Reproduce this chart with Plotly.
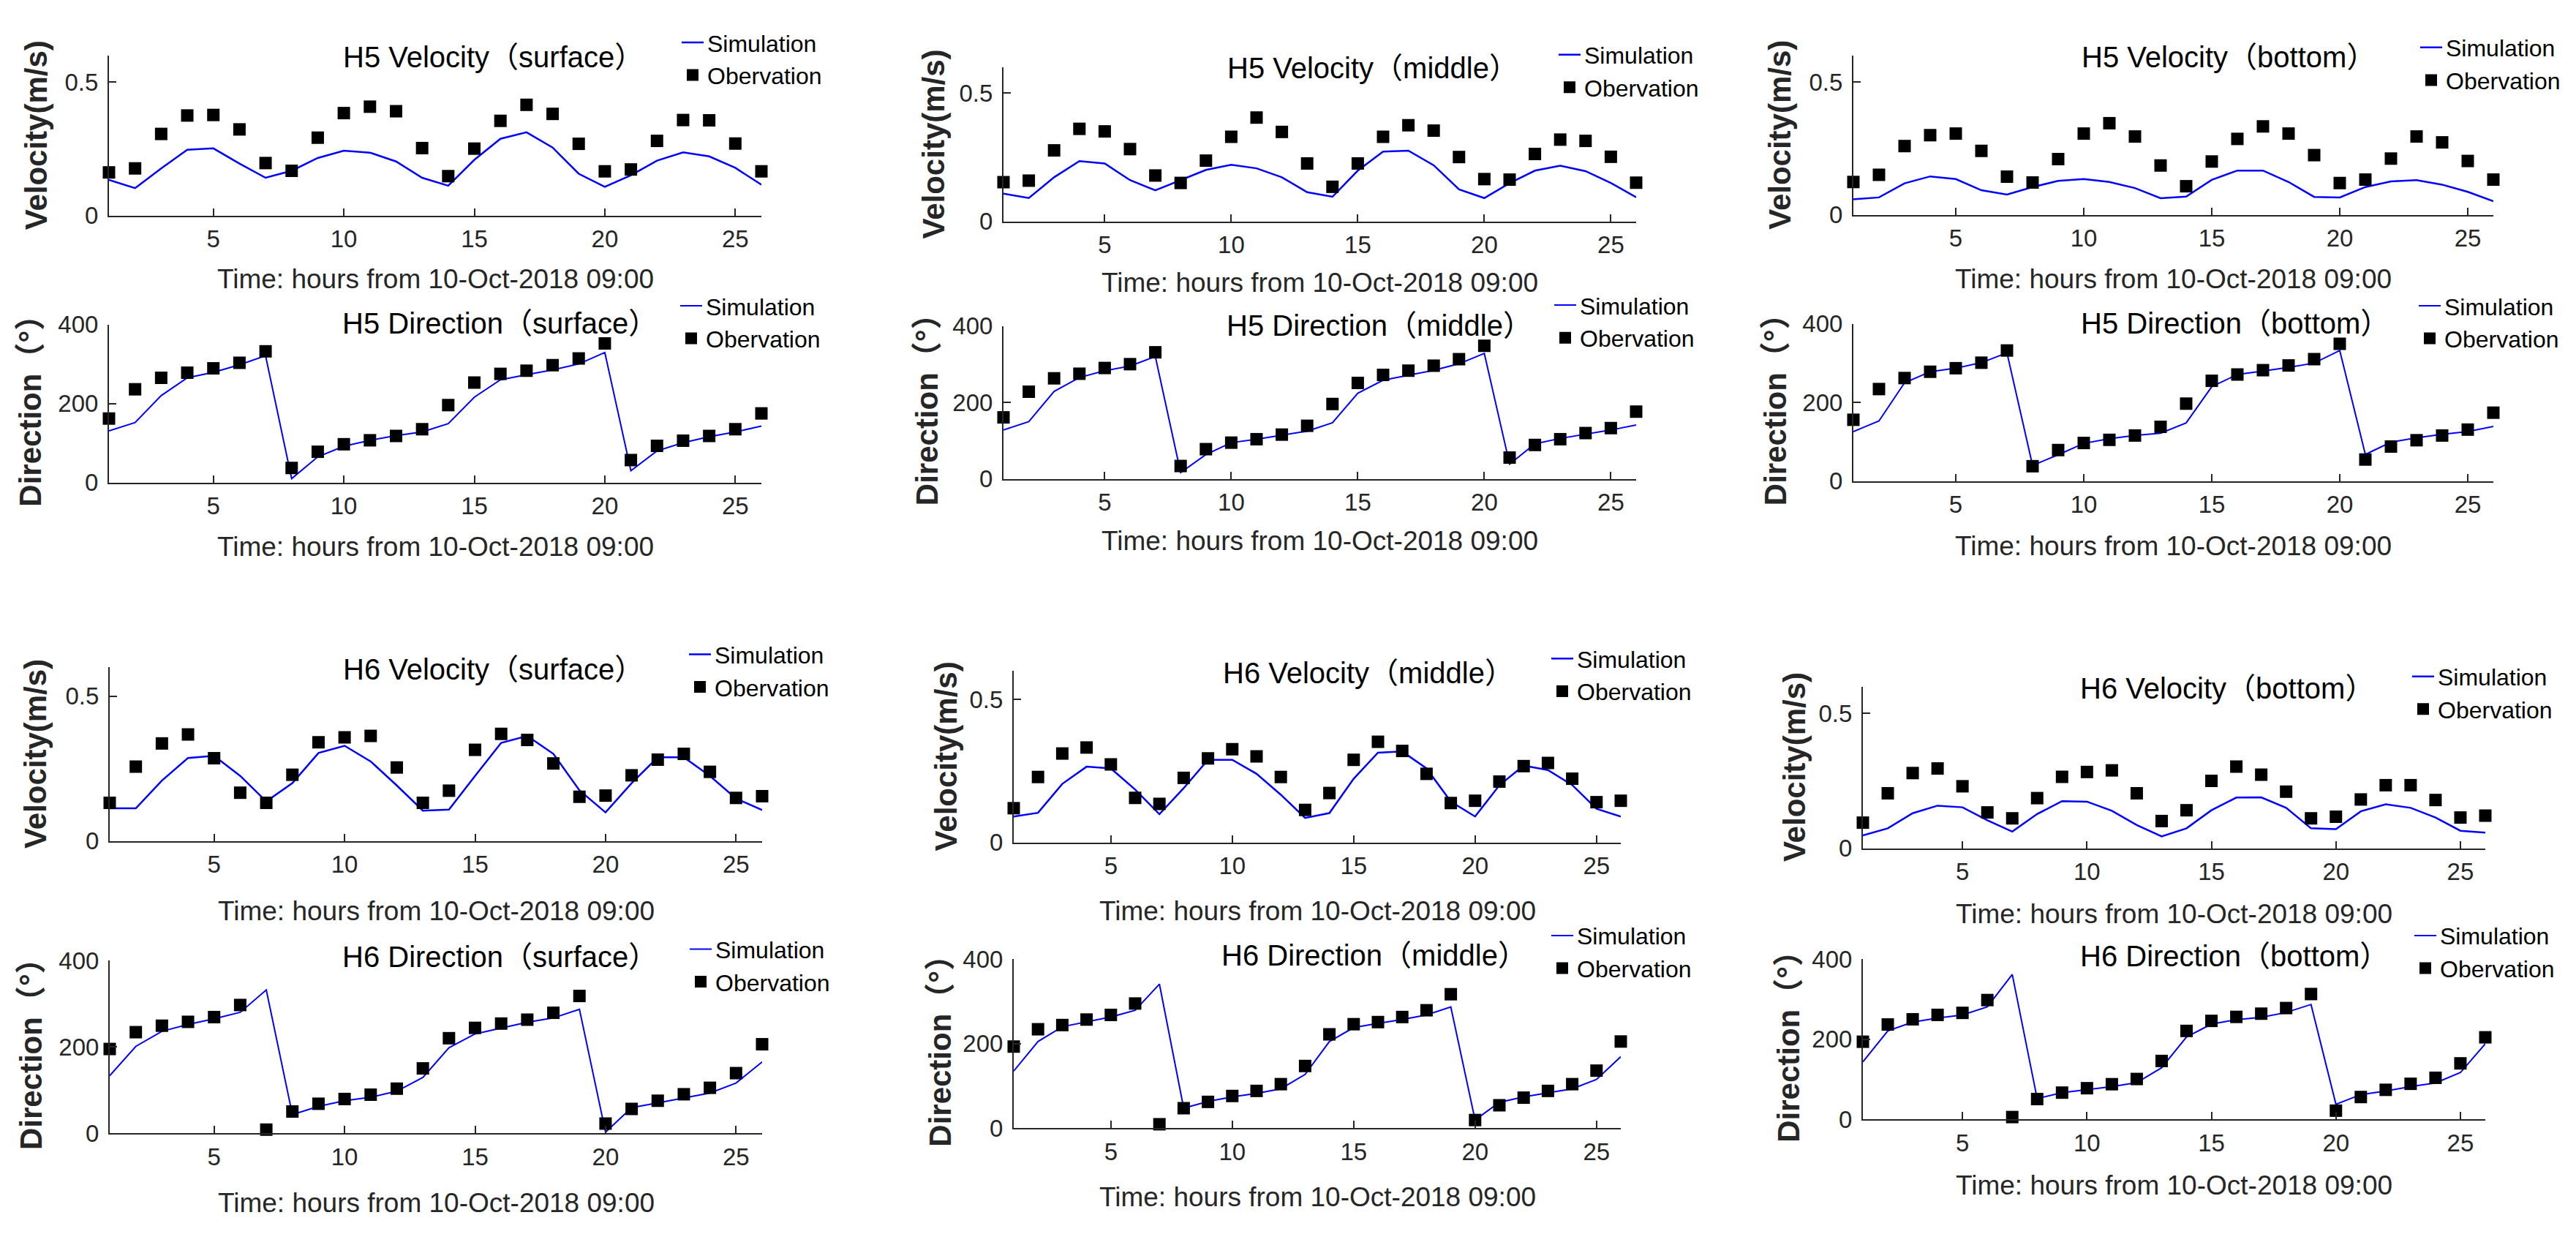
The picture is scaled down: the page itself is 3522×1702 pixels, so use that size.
import plotly.graph_objects as go

W, H = 3522, 1702

# ---------------- data ----------------
hours = list(range(1, 27))
x_ticks = [5, 10, 15, 20, 25]
vel_ticks = [0, 0.5]
vel_tick_text = ["0", "0.5"]
dir_ticks = [0, 200, 400]
dir_tick_text = ["0", "200", "400"]

h5_vel_surface_obs = [0.162, 0.177, 0.306, 0.375, 0.377, 0.323, 0.197, 0.168, 0.292, 0.384, 0.408, 0.391, 0.253,
                      0.148, 0.251, 0.355, 0.415, 0.381, 0.269, 0.166, 0.173, 0.280, 0.358, 0.357, 0.270, 0.166]
h5_vel_surface_sim = [0.134, 0.103, 0.177, 0.247, 0.252, 0.195, 0.142, 0.168, 0.216, 0.243, 0.236, 0.203, 0.142,
                      0.112, 0.209, 0.288, 0.312, 0.255, 0.157, 0.108, 0.151, 0.206, 0.237, 0.222, 0.179, 0.116]
h5_dir_surface_obs = [162, 236, 265, 278, 289, 303, 332, 37, 78, 97, 107, 118, 135,
                      196, 253, 275, 283, 297, 314, 352, 57, 93, 106, 118, 135, 175]
h5_dir_surface_sim = [131, 152, 220, 265, 279, 298, 321, 10, 65, 92, 107, 119, 128,
                      149, 216, 260, 273, 285, 300, 329, 30, 80, 101, 116, 128, 143]

h5_vel_middle_obs = [0.153, 0.159, 0.277, 0.361, 0.351, 0.282, 0.179, 0.150, 0.237, 0.330, 0.405, 0.349, 0.226,
                     0.135, 0.226, 0.330, 0.375, 0.354, 0.251, 0.165, 0.163, 0.263, 0.319, 0.314, 0.252, 0.151]
h5_vel_middle_sim = [0.108, 0.091, 0.172, 0.235, 0.226, 0.161, 0.121, 0.161, 0.201, 0.221, 0.207, 0.172, 0.114,
                     0.096, 0.198, 0.272, 0.276, 0.219, 0.125, 0.091, 0.149, 0.198, 0.217, 0.196, 0.150, 0.094]
h5_dir_middle_obs = [161, 228, 263, 275, 290, 300, 331, 34, 78, 95, 104, 116, 139,
                     196, 251, 272, 283, 296, 313, 348, 56, 89, 104, 120, 133, 176]
h5_dir_middle_sim = [128, 150, 229, 265, 283, 295, 320, 17, 64, 95, 104, 114, 125,
                     147, 224, 258, 271, 284, 301, 328, 39, 92, 106, 117, 128, 141]

h5_vel_bottom_obs = [0.124, 0.151, 0.259, 0.300, 0.306, 0.241, 0.144, 0.122, 0.210, 0.306, 0.345, 0.295, 0.186,
                     0.108, 0.201, 0.286, 0.333, 0.306, 0.225, 0.120, 0.133, 0.212, 0.295, 0.273, 0.203, 0.133]
h5_vel_bottom_sim = [0.059, 0.066, 0.119, 0.145, 0.135, 0.093, 0.077, 0.105, 0.128, 0.135, 0.124, 0.101, 0.063,
                     0.069, 0.132, 0.167, 0.167, 0.124, 0.068, 0.066, 0.105, 0.126, 0.131, 0.114, 0.087, 0.052]
h5_dir_bottom_obs = [156, 234, 262, 278, 287, 301, 332, 38, 79, 97, 105, 116, 138,
                     197, 255, 271, 282, 294, 310, 349, 55, 88, 104, 116, 131, 174]
h5_dir_bottom_sim = [126, 153, 250, 278, 287, 301, 326, 40, 67, 96, 108, 116, 122,
                     148, 240, 271, 280, 289, 300, 332, 68, 99, 110, 119, 126, 139]

h6_vel_surface_obs = [0.132, 0.257, 0.337, 0.368, 0.286, 0.167, 0.132, 0.229, 0.341, 0.358, 0.363, 0.254, 0.132,
                      0.174, 0.315, 0.370, 0.349, 0.268, 0.153, 0.157, 0.227, 0.281, 0.301, 0.239, 0.149, 0.155]
h6_vel_surface_sim = [0.113, 0.113, 0.209, 0.287, 0.294, 0.225, 0.137, 0.200, 0.304, 0.329, 0.275, 0.192, 0.105,
                      0.109, 0.225, 0.339, 0.363, 0.301, 0.175, 0.099, 0.200, 0.289, 0.289, 0.225, 0.147, 0.107]
h6_dir_surface_obs = [195, 234, 249, 258, 269, 297, 8, 50, 68, 79, 89, 103, 150,
                      220, 244, 254, 263, 279, 318, 22, 56, 75, 90, 105, 139, 206]
h6_dir_surface_sim = [133, 201, 236, 252, 265, 280, 332, 43, 62, 75, 83, 97, 129,
                      198, 230, 243, 257, 267, 287, 2, 59, 70, 81, 93, 116, 165]

h6_vel_middle_obs = [0.120, 0.229, 0.311, 0.332, 0.273, 0.156, 0.135, 0.226, 0.294, 0.326, 0.301, 0.229, 0.114,
                     0.173, 0.289, 0.352, 0.320, 0.240, 0.138, 0.146, 0.213, 0.267, 0.278, 0.223, 0.141, 0.146]
h6_vel_middle_sim = [0.091, 0.104, 0.205, 0.265, 0.259, 0.185, 0.099, 0.190, 0.289, 0.289, 0.240, 0.167, 0.086,
                     0.103, 0.223, 0.314, 0.318, 0.259, 0.143, 0.091, 0.200, 0.269, 0.253, 0.201, 0.118, 0.091]
h6_dir_middle_obs = [193, 234, 244, 257, 268, 295, 9, 47, 62, 76, 88, 104, 147,
                     222, 246, 251, 263, 279, 317, 19, 54, 72, 88, 104, 136, 205]
h6_dir_middle_sim = [135, 205, 240, 252, 263, 279, 341, 47, 63, 74, 82, 93, 127,
                     205, 238, 248, 257, 268, 287, 19, 61, 74, 84, 93, 115, 169]

h6_vel_bottom_obs = [0.095, 0.204, 0.279, 0.296, 0.230, 0.133, 0.111, 0.186, 0.265, 0.283, 0.289, 0.204, 0.101,
                     0.141, 0.250, 0.303, 0.273, 0.210, 0.111, 0.117, 0.181, 0.234, 0.234, 0.179, 0.114, 0.121]
h6_vel_bottom_sim = [0.048, 0.074, 0.130, 0.158, 0.152, 0.104, 0.062, 0.127, 0.175, 0.173, 0.139, 0.086, 0.044,
                     0.074, 0.141, 0.188, 0.189, 0.150, 0.074, 0.071, 0.137, 0.163, 0.150, 0.114, 0.065, 0.058]
h6_dir_bottom_obs = [194, 237, 250, 261, 266, 298, 6, 51, 67, 78, 88, 101, 146,
                     221, 246, 256, 264, 278, 313, 22, 56, 74, 89, 104, 140, 205]
h6_dir_bottom_sim = [144, 221, 243, 253, 261, 281, 362, 52, 67, 74, 82, 92, 129,
                     206, 238, 249, 255, 267, 287, 38, 62, 71, 82, 91, 117, 189]

titles = ["H5 Velocity（surface）", "H5 Direction（surface）",
          "H5 Velocity（middle）", "H5 Direction（middle）",
          "H5 Velocity（bottom）", "H5 Direction（bottom）",
          "H6 Velocity（surface）", "H6 Direction（surface）",
          "H6 Velocity（middle）", "H6 Direction（middle）",
          "H6 Velocity（bottom）", "H6 Direction（bottom）"]
kinds = ["vel", "dir"] * 6
obs_series = [h5_vel_surface_obs, h5_dir_surface_obs, h5_vel_middle_obs, h5_dir_middle_obs,
              h5_vel_bottom_obs, h5_dir_bottom_obs, h6_vel_surface_obs, h6_dir_surface_obs,
              h6_vel_middle_obs, h6_dir_middle_obs, h6_vel_bottom_obs, h6_dir_bottom_obs]
sim_series = [h5_vel_surface_sim, h5_dir_surface_sim, h5_vel_middle_sim, h5_dir_middle_sim,
              h5_vel_bottom_sim, h5_dir_bottom_sim, h6_vel_surface_sim, h6_dir_surface_sim,
              h6_vel_middle_sim, h6_dir_middle_sim, h6_vel_bottom_sim, h6_dir_bottom_sim]
x_label = "Time: hours from 10-Oct-2018 09:00"
y_labels = {"vel": "Velocity(m/s)", "dir": "Direction（°）"}
sim_name = "Simulation"
obs_name = "Obervation"

# ---------------- layout geometry (pixels) ----------------
# axes box: left, right, top, bottom
boxes = [(149, 1041, 59, 283), (149, 1041, 435, 656),
         (1372, 2237, 76, 291), (1372, 2237, 437, 651),
         (2534, 3409, 59, 282), (2534, 3409, 434, 654),
         (150, 1042, 914, 1157), (150, 1042, 1324, 1565),
         (1386, 2216, 919, 1159), (1386, 2216, 1322, 1558),
         (2547, 3398, 941, 1167), (2547, 3398, 1322, 1546)]
title_pos = [(674, 61), (683, 433), (1877, 77), (1886, 436), (3047, 61), (3056, 433),
             (674, 917), (683, 1319), (1871, 922), (1879, 1317), (3045, 943), (3055, 1318)]
ylabel_x = [49, 42, 1277, 1267, 2434, 2427, 49, 42, 1293, 1286, 2453, 2446]
xlabel_y = [372, 746, 377, 738, 372, 745, 1255, 1663, 1255, 1654, 1259, 1638]
legend_pos = [(927, 13), (925, 381), (2126, 30), (2120, 380), (3304, 20), (3302, 381),
              (937, 868), (938, 1280), (2116, 874), (2116, 1261), (3293, 899), (3296, 1261)]

FONT = "Arial, Liberation Sans, Noto Sans CJK SC, sans-serif"
AX = "#262626"

def px(v):
    return v / W

def py(v):
    return 1 - v / H

fig = go.Figure()
layout = dict(width=W, height=H, margin=dict(l=0, r=0, t=0, b=0),
              paper_bgcolor="white", plot_bgcolor="white",
              font=dict(family=FONT, color=AX), annotations=[], showlegend=True)

for i in range(12):
    n = i + 1
    sfx = "" if n == 1 else str(n)
    leg = "legend" + sfx
    l, r, t, b = boxes[i]
    kind = kinds[i]
    lw = 2.5 if kind == "vel" else 2
    fig.add_trace(go.Scatter(x=hours, y=sim_series[i], mode="lines", name=sim_name,
                             line=dict(color="#0000FF", width=lw),
                             xaxis="x" + sfx, yaxis="y" + sfx, legend=leg, cliponaxis=False))
    fig.add_trace(go.Scatter(x=hours, y=obs_series[i], mode="markers", name=obs_name,
                             marker=dict(symbol="square", size=17, color="black"),
                             xaxis="x" + sfx, yaxis="y" + sfx, legend=leg, cliponaxis=False))
    layout["xaxis" + sfx] = dict(domain=[px(l), px(r)], range=[1, 26], tickvals=x_ticks,
                                 ticks="inside", ticklen=10, tickwidth=2, tickcolor=AX,
                                 showline=True, linecolor=AX, linewidth=2, showgrid=False,
                                 zeroline=False, anchor="y" + sfx, ticklabelstandoff=2,
                                 tickfont=dict(size=33, color=AX, family=FONT))
    if kind == "vel":
        yr, tv, tt = [0, 0.6], vel_ticks, vel_tick_text
    else:
        yr, tv, tt = [0, 400], dir_ticks, dir_tick_text
    layout["yaxis" + sfx] = dict(domain=[py(b), py(t)], range=yr, tickvals=tv, ticktext=tt,
                                 ticks="inside", ticklen=10, tickwidth=2, tickcolor=AX,
                                 showline=True, linecolor=AX, linewidth=2, showgrid=False,
                                 zeroline=False, anchor="x" + sfx, ticklabelstandoff=6,
                                 tickfont=dict(size=33, color=AX, family=FONT))
    lx, ly = legend_pos[i]
    layout[leg] = dict(x=px(lx), y=py(ly), xanchor="left", yanchor="top",
                       bgcolor="rgba(0,0,0,0)", font=dict(size=32, color="black", family=FONT))
    tx, ty = title_pos[i]
    layout["annotations"].append(dict(text=titles[i], x=px(tx), y=py(ty), xref="paper", yref="paper",
                                      xanchor="center", yanchor="middle", showarrow=False,
                                      font=dict(size=40, color="black", family=FONT)))
    layout["annotations"].append(dict(text=x_label, x=px((l + r) / 2), y=py(xlabel_y[i]),
                                      xref="paper", yref="paper", xanchor="center", yanchor="middle",
                                      showarrow=False, font=dict(size=37, color=AX, family=FONT)))
    layout["annotations"].append(dict(text="<b>" + y_labels[kind] + "</b>", x=px(ylabel_x[i]),
                                      y=py((t + b) / 2), xref="paper", yref="paper",
                                      xanchor="center", yanchor="middle", textangle=-90,
                                      showarrow=False, font=dict(size=42, color=AX, family=FONT)))

fig.update_layout(**layout)
fig.write_html("out.html", config={"displayModeBar": False},
               post_script="document.body.style.margin='0';")
